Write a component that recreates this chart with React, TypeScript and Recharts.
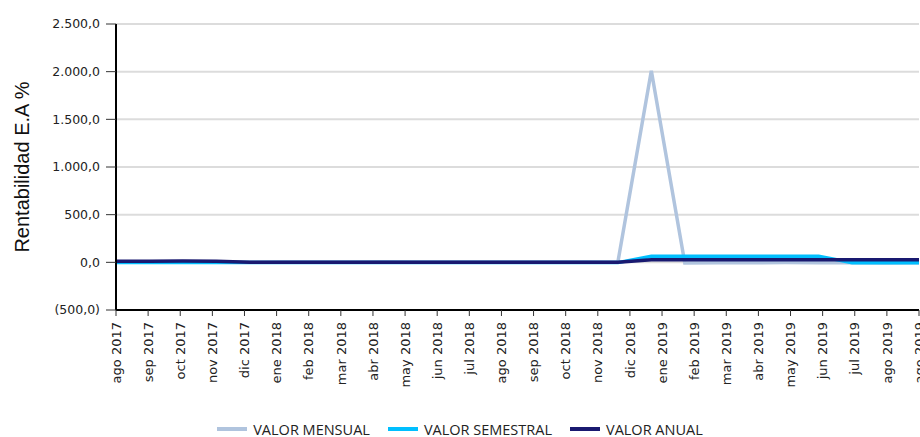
import {
  LineChart,
  Line,
  CartesianGrid,
  XAxis,
  YAxis,
  Legend,
} from 'recharts'

// 25 monthly observations, ago 2017 .. ago 2019
const PERIODOS = [
  'ago 2017', 'sep 2017', 'oct 2017', 'nov 2017', 'dic 2017',
  'ene 2018', 'feb 2018', 'mar 2018', 'abr 2018', 'may 2018', 'jun 2018', 'jul 2018',
  'ago 2018', 'sep 2018', 'oct 2018', 'nov 2018', 'dic 2018',
  'ene 2019', 'feb 2019', 'mar 2019', 'abr 2019', 'may 2019', 'jun 2019', 'jul 2019', 'ago 2019',
]

// axis labels (the source chart repeats the last month)
const ETIQUETAS_X = [...PERIODOS, 'ago 2019']

const VALOR_MENSUAL = [4, 6, 5, 3, 2, 3, 4, 3, 5, 4, 3, 4, 3, 4, 3, 2, 2010, -6, -4, -5, -3, -5, -4, -6, -5]
const VALOR_SEMESTRAL = [-3, -3, -3, -3, -3, -3, -3, -3, -3, -3, -3, -3, -3, -3, -3, -3, 63, 64, 64, 65, 65, 65, -4, -4, -4]
const VALOR_ANUAL = [12, 12, 13, 12, 0, 0, 0, 0, 0, 0, 0, 0, 0, 0, 0, 0, 27, 27, 27, 27, 27, 27, 27, 27, 27]

const Y_TICKS = [-500, 0, 500, 1000, 1500, 2000, 2500]

const SERIES = [
  { key: 'mensual', name: 'VALOR MENSUAL', color: '#B0C4DE' },
  { key: 'semestral', name: 'VALOR SEMESTRAL', color: '#00BFFF' },
  { key: 'anual', name: 'VALOR ANUAL', color: '#191970' },
]

const data = PERIODOS.map((periodo, i) => ({
  periodo,
  indice: i,
  mensual: VALOR_MENSUAL[i],
  semestral: VALOR_SEMESTRAL[i],
  anual: VALOR_ANUAL[i],
}))

const formatValor = (v: number) => {
  const abs = Math.abs(v)
  const [ent, dec] = abs.toFixed(1).split('.')
  const txt = ent.replace(/\B(?=(\d{3})+(?!\d))/g, '.') + ',' + dec
  return v < 0 ? `(${txt})` : txt
}

const XTick = ({ x, y, payload }: any) => (
  <g transform={`translate(${x},${y})`}>
    <text
      transform="rotate(-90)"
      x={-4}
      y={0}
      dy="0.36em"
      textAnchor="end"
      fontFamily="DejaVu Sans"
      fontSize={13}
      fill="#222"
    >
      {ETIQUETAS_X[payload.value]}
    </text>
  </g>
)

const YLabel = ({ viewBox }: any) => {
  const cx = viewBox.x + 22
  const cy = viewBox.y + viewBox.height / 2
  return (
    <text
      x={cx}
      y={cy}
      transform={`rotate(-90, ${cx}, ${cy})`}
      textAnchor="middle"
      dominantBaseline="central"
      fontFamily="Liberation Sans"
      fontSize={20}
      fill="#111"
    >
      Rentabilidad E.A %
    </text>
  )
}

const renderLegend = () => (
  <div
    style={{
      display: 'flex',
      justifyContent: 'center',
      alignItems: 'center',
      height: 20,
      fontFamily: 'Open Sans',
      fontSize: 14.5,
      color: '#222',
    }}
  >
    {SERIES.map((s) => (
      <div key={s.key} style={{ display: 'flex', alignItems: 'center', margin: '0 9px' }}>
        <span style={{ display: 'inline-block', width: 30, height: 4, background: s.color, marginRight: 6 }} />
        <span>{s.name}</span>
      </div>
    ))}
  </div>
)

export default function App() {
  return (
    <div style={{ position: 'absolute', left: 0, top: 0, width: 920, height: 437, overflow: 'hidden', background: '#fff' }}>
      <LineChart width={920} height={439} data={data} margin={{ top: 24, right: 1, left: 0, bottom: 0 }}>
        <CartesianGrid vertical={false} stroke="#dcdcdc" strokeWidth={2} yAxisId="val" />
        <XAxis xAxisId="pts" dataKey="periodo" hide />
        <XAxis
          xAxisId="meses"
          dataKey="indice"
          type="number"
          domain={[0, 25]}
          allowDataOverflow
          ticks={ETIQUETAS_X.map((_, i) => i)}
          interval={0}
          height={109}
          tick={<XTick />}
          tickSize={6}
          tickLine={{ stroke: '#333' }}
          axisLine={{ stroke: '#000', strokeWidth: 2 }}
        />
        <YAxis
          yAxisId="val"
          type="number"
          domain={[-500, 2500]}
          ticks={Y_TICKS}
          interval={0}
          width={116}
          tickFormatter={formatValor}
          tick={{ fontFamily: 'DejaVu Sans', fontSize: 12.5, fill: '#222' }}
          tickSize={10}
          tickMargin={6}
          tickLine={{ stroke: '#333' }}
          axisLine={{ stroke: '#000', strokeWidth: 2 }}
          label={{ content: <YLabel /> }}
        />
        <Legend verticalAlign="bottom" wrapperStyle={{ left: 0, width: 920 }} content={renderLegend} />
        {SERIES.map((s) => (
          <Line
            key={s.key}
            xAxisId="pts"
            yAxisId="val"
            type="linear"
            dataKey={s.key}
            name={s.name}
            stroke={s.color}
            strokeWidth={3.5}
            dot={false}
            activeDot={false}
            isAnimationActive={false}
          />
        ))}
      </LineChart>
    </div>
  )
}
